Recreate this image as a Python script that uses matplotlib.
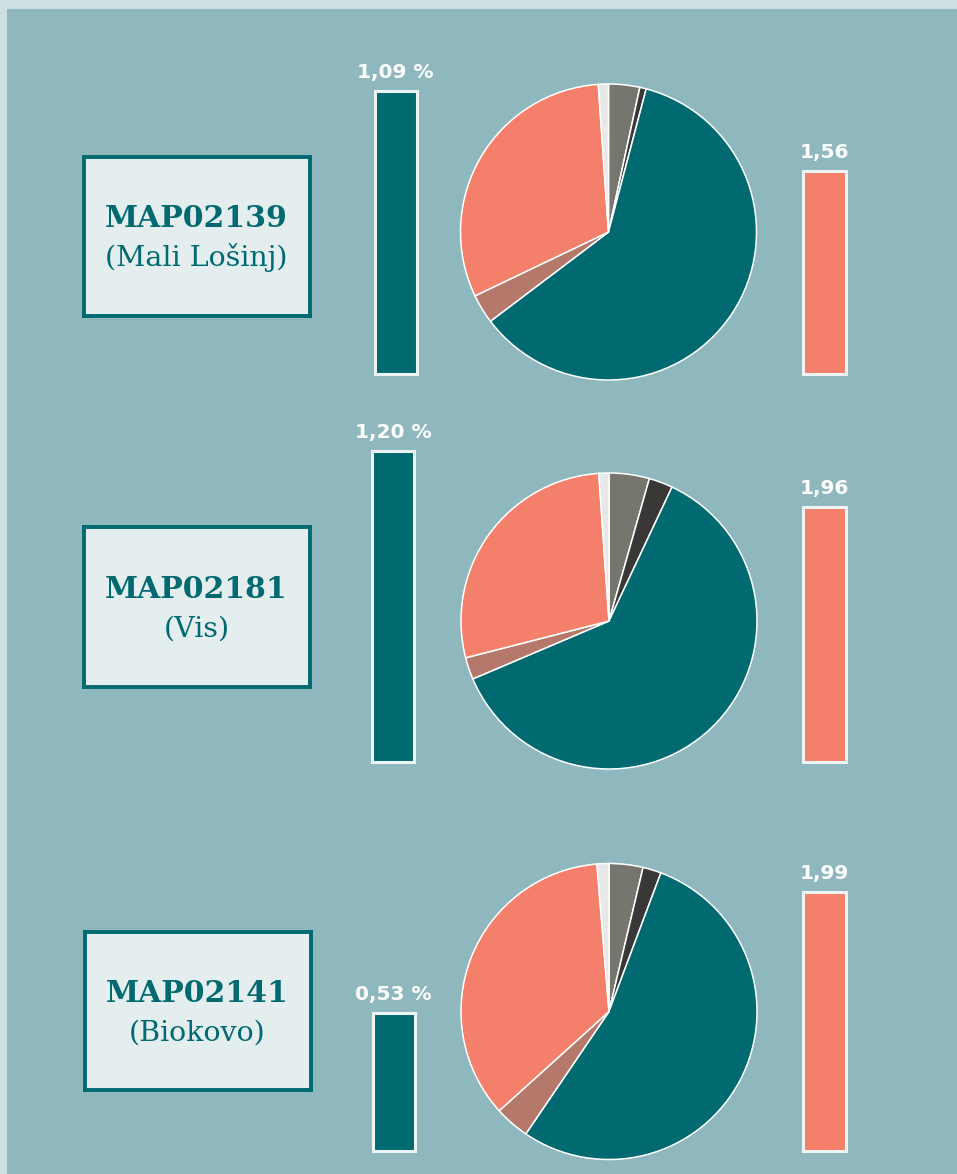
import matplotlib
matplotlib.use("Agg")
import matplotlib.pyplot as plt
from matplotlib.patches import Rectangle

W, H = 957, 1174

# data per station
stations = ["MAP02139", "MAP02181", "MAP02141"]
places = ["(Mali Lošinj)", "(Vis)", "(Biokovo)"]
share_pct = [1.09, 1.20, 0.53]
ratio = [1.56, 1.96, 1.99]

# pie slices, clockwise from 12 o'clock
slice_colors = ["#76766E", "#3A3837", "#006A70", "#B5796C", "#F47F6A", "#E8E8E8"]
pie_values = [
    [3.4, 0.7, 60.6, 3.2, 31.0, 1.1],
    [4.4, 2.6, 61.6, 2.4, 27.9, 1.1],
    [3.7, 2.0, 53.8, 3.8, 35.4, 1.3],
]

TEAL = "#006A70"
SALMON = "#F47F6A"
BG = "#8FB8BE"

# layout (pixels)
bar_base = [373.5, 761.5, 1150.5]
teal_x = [395.5, 393.0, 393.5]
salmon_x = 824.0
pie_center = [(608.5, 232.0), (609.0, 621.0), (609.0, 1011.5)]
pie_r = 148
boxes = [(83.5, 156.5, 226, 159), (83.5, 526.5, 226, 160), (84.5, 931.5, 226, 158)]
teal_px = 259.0
salmon_px = 130.0


def px_axes(left, top, width, height):
    return fig.add_axes([left / W, 1 - (top + height) / H, width / W, height / H])


fig = plt.figure(figsize=(W / 100, H / 100), dpi=100)
fig.patch.set_facecolor("#CFE0E3")
fig.add_artist(Rectangle((7 / W, 0), 1, 1 - 9 / H, transform=fig.transFigure,
                         facecolor=BG, edgecolor="none", zorder=0))


def value_bar(cx, base, value, px_per_unit, color, label, width=42, top_units=2.2):
    h = top_units * px_per_unit
    ax = px_axes(cx - width / 2, base - h, width, h)
    ax.set_xlim(-0.5, 0.5)
    ax.set_ylim(0, top_units)
    ax.axis("off")
    ax.bar(0, value, width=1, color=color, edgecolor="#EEF3F3", linewidth=2.2,
           clip_on=False)
    ax.annotate(label, (0, value), xytext=(0, 9.5), textcoords="offset points",
                ha="center", va="baseline", color="white", fontsize=14.5,
                fontweight="bold", family="DejaVu Sans", annotation_clip=False)


for i in range(3):
    # station label box
    bx, by, bw, bh = boxes[i]
    ax = px_axes(bx, by, bw, bh)
    ax.set_facecolor("#E4EEEF")
    ax.set_xticks([])
    ax.set_yticks([])
    for s in ax.spines.values():
        s.set_color(TEAL)
        s.set_linewidth(2.8)
    ax.text(0.5, 0.555, stations[i], ha="center", va="baseline", color=TEAL,
            fontsize=21.5, fontweight="bold", family="DejaVu Serif",
            transform=ax.transAxes)
    ax.text(0.5, 0.31, places[i], ha="center", va="baseline", color=TEAL,
            fontsize=20.5, family="DejaVu Serif", transform=ax.transAxes)

    # share bar
    value_bar(teal_x[i], bar_base[i], share_pct[i], teal_px, TEAL,
              f"{share_pct[i]:.2f} %".replace(".", ","), width=42, top_units=1.4)

    # pie
    cx, cy = pie_center[i]
    ax = px_axes(cx - pie_r, cy - pie_r, 2 * pie_r, 2 * pie_r)
    ax.pie(pie_values[i], colors=slice_colors, startangle=90, counterclock=False,
           wedgeprops=dict(edgecolor="white", linewidth=1.1))
    ax.set_xlim(-1, 1)
    ax.set_ylim(-1, 1)
    for p in ax.patches:
        p.set_clip_on(False)

    # ratio bar
    value_bar(salmon_x, bar_base[i], ratio[i], salmon_px, SALMON,
              f"{ratio[i]:.2f}".replace(".", ","), width=43, top_units=2.2)

fig.savefig("out.png", dpi=100, facecolor=fig.get_facecolor())
